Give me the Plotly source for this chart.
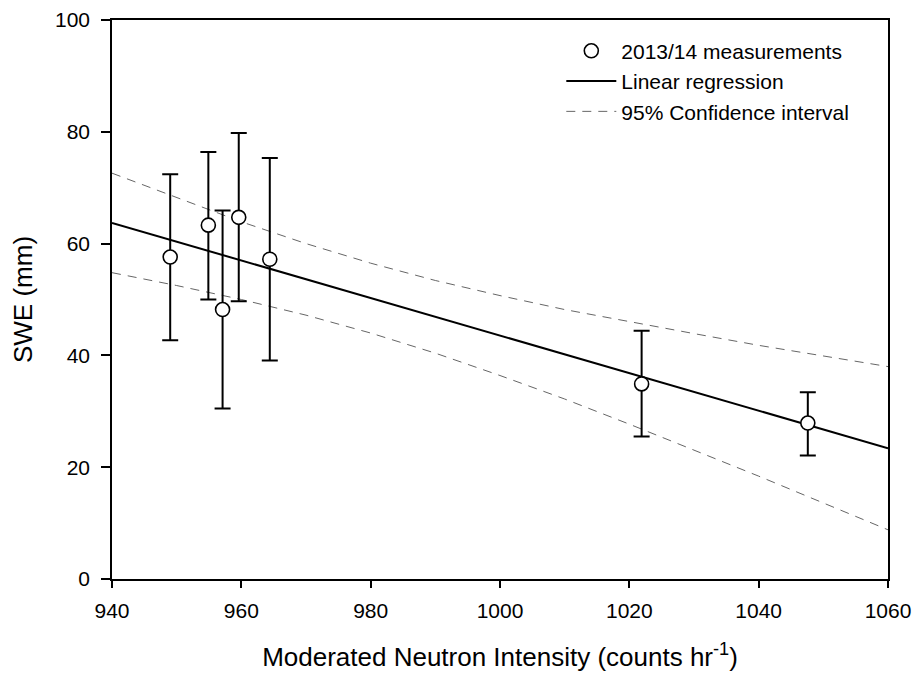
import plotly.graph_objects as go

intensity = [949.0, 954.9, 957.1, 959.6, 964.4, 1021.9, 1047.6]
swe = [57.6, 63.3, 48.2, 64.7, 57.2, 34.9, 27.9]
swe_high = [72.4, 76.4, 65.9, 79.8, 75.3, 44.4, 33.4]
swe_low = [42.7, 50.0, 30.5, 49.7, 39.1, 25.5, 22.1]

# Linear regression line
reg_x = [940, 1060]
reg_y = [63.7, 23.4]

# 95% confidence band
ci_x = [940, 950, 960, 970, 980, 990, 1000, 1010, 1020, 1030, 1040, 1050, 1060]
ci_upper = [72.6, 68.2, 63.9, 60.0, 56.5, 53.4, 50.7, 48.2, 46.0, 43.9, 41.8, 39.9, 38.0]
ci_lower = [54.8, 52.5, 50.0, 47.2, 44.0, 40.4, 36.4, 32.2, 27.7, 23.1, 18.4, 13.6, 8.8]

x_ticks = [940, 960, 980, 1000, 1020, 1040, 1060]
y_ticks = [0, 20, 40, 60, 80, 100]

FONT = "Liberation Sans, Arial, sans-serif"

fig = go.Figure()

fig.add_trace(go.Scatter(
    x=ci_x, y=ci_upper, mode="lines", name="95% Confidence interval",
    line=dict(color="#666666", width=1, dash="9px,7px"), legendrank=3,
))
fig.add_trace(go.Scatter(
    x=ci_x, y=ci_lower, mode="lines", name="95% Confidence interval",
    line=dict(color="#666666", width=1, dash="9px,7px"), showlegend=False,
))
fig.add_trace(go.Scatter(
    x=reg_x, y=reg_y, mode="lines", name="Linear regression",
    line=dict(color="black", width=2), legendrank=2,
))
fig.add_trace(go.Scatter(
    x=intensity, y=swe, mode="markers", name="2013/14 measurements",
    marker=dict(symbol="circle", size=14, color="white",
                line=dict(color="black", width=1.6)),
    error_y=dict(type="data", symmetric=False,
                 array=[h - v for h, v in zip(swe_high, swe)],
                 arrayminus=[v - l for v, l in zip(swe, swe_low)],
                 color="black", thickness=2, width=8),
    legendrank=1,
))

fig.update_layout(
    width=914, height=675,
    margin=dict(l=112, r=26, t=20, b=96),
    paper_bgcolor="white", plot_bgcolor="white",
    font=dict(family=FONT, color="black", size=21),
    showlegend=True,
    legend=dict(x=0.579, y=0.981, xanchor="left", yanchor="top",
                bgcolor="rgba(0,0,0,0)", font=dict(size=21, family=FONT),
                itemwidth=50, tracegroupgap=0),
    xaxis=dict(range=[940, 1060], tickvals=x_ticks, ticks="outside", ticklen=7,
               tickwidth=1.5, tickcolor="black", showline=True, linewidth=1.5,
               linecolor="black", mirror=True, showgrid=False, zeroline=False,
               tickfont=dict(size=21), automargin=False, ticklabelstandoff=5,
               title=dict(text="Moderated Neutron Intensity (counts hr<sup>-1</sup>)",
                          font=dict(size=26), standoff=27)),
    yaxis=dict(range=[0, 100], tickvals=y_ticks, ticks="outside", ticklen=9,
               tickwidth=1.5, tickcolor="black", showline=True, linewidth=1.5,
               linecolor="black", mirror=True, showgrid=False, zeroline=False,
               tickfont=dict(size=21), automargin=False, ticklabelstandoff=7,
               title=dict(text="SWE (mm)", font=dict(size=26), standoff=15)),
)

# Remove the browser's default body margin so the figure fills the window exactly
fig.write_html("out.html", config={"displayModeBar": False},
               post_script="document.body.style.margin='0';")
